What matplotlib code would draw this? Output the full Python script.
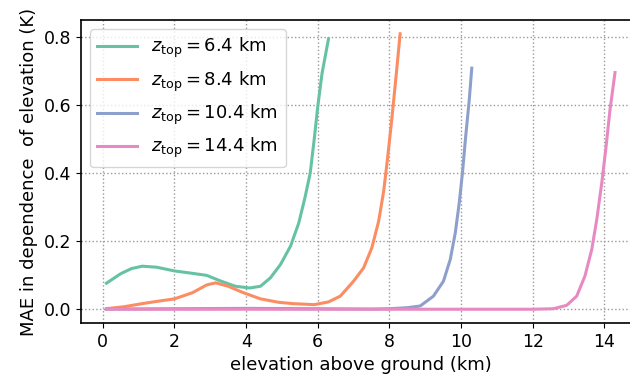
import matplotlib
matplotlib.use("Agg")
import matplotlib.pyplot as plt

labels = [r"$z_{\mathrm{top}} = 6.4$ km", r"$z_{\mathrm{top}} = 8.4$ km",
          r"$z_{\mathrm{top}} = 10.4$ km", r"$z_{\mathrm{top}} = 14.4$ km"]
colors = ["#66c2a5", "#fc8d62", "#8da0cb", "#e78ac3"]

x_64 = [0.1, 0.5, 0.8, 1.1, 1.5, 2.0, 2.5, 2.9, 3.3, 3.7, 4.1, 4.4, 4.68, 4.96, 5.24, 5.47,
        5.65, 5.79, 5.9, 6.0, 6.12, 6.3]
y_64 = [0.077, 0.105, 0.120, 0.127, 0.124, 0.113, 0.106, 0.100, 0.083, 0.068, 0.063, 0.068,
        0.093, 0.132, 0.186, 0.254, 0.332, 0.401, 0.499, 0.596, 0.694, 0.795]

x_84 = [0.1, 0.6, 1.1, 1.6, 2.0, 2.5, 2.9, 3.15, 3.5, 3.9, 4.4, 4.9, 5.3, 5.9, 6.3, 6.63, 7.0,
        7.28, 7.51, 7.7, 7.84, 7.95, 8.07, 8.19, 8.3]
y_84 = [0.002, 0.008, 0.017, 0.025, 0.031, 0.049, 0.072, 0.078, 0.068, 0.050, 0.031, 0.021,
        0.017, 0.014, 0.022, 0.039, 0.083, 0.122, 0.181, 0.259, 0.347, 0.445, 0.562, 0.689, 0.81]

x_104 = [0.1, 2.0, 4.0, 6.0, 7.5, 8.0, 8.5, 8.86, 9.23, 9.51, 9.7, 9.84, 9.95, 10.04, 10.13,
         10.23, 10.3]
y_104 = [0.001, 0.002, 0.003, 0.002, 0.001, 0.002, 0.005, 0.010, 0.039, 0.083, 0.147, 0.225,
         0.313, 0.401, 0.508, 0.616, 0.709]

x_144 = [0.1, 4.0, 8.0, 12.0, 12.58, 12.95, 13.23, 13.46, 13.65, 13.79, 13.93, 14.04, 14.16, 14.3]
y_144 = [0.0005, 0.0005, 0.0005, 0.0005, 0.002, 0.012, 0.039, 0.098, 0.176, 0.264, 0.372,
         0.469, 0.587, 0.696]

xs = [x_64, x_84, x_104, x_144]
ys = [y_64, y_84, y_104, y_144]

fig = plt.figure(figsize=(6.3, 3.86), dpi=100)
ax = fig.add_axes([0.1286, 0.1632, 0.888, 0.785])

for x, y, c, lab in zip(xs, ys, colors, labels):
    ax.plot(x, y, color=c, lw=2.2, label=lab)

ax.grid(True, linestyle=":", color="#999999", linewidth=1.0)
ax.set_yticks([0.0, 0.2, 0.4, 0.6, 0.8])
ax.set_xticks([0, 2, 4, 6, 8, 10, 12, 14])
ax.tick_params(labelsize=12.5)
ax.set_xlabel("elevation above ground (km)", fontsize=13)
ax.set_ylabel("MAE in dependence  of elevation (K)", fontsize=13)
for s in ax.spines.values():
    s.set_linewidth(1.2)
ax.legend(loc="upper left", fontsize=13, handlelength=2.2)

fig.savefig("out.png", dpi=100)
